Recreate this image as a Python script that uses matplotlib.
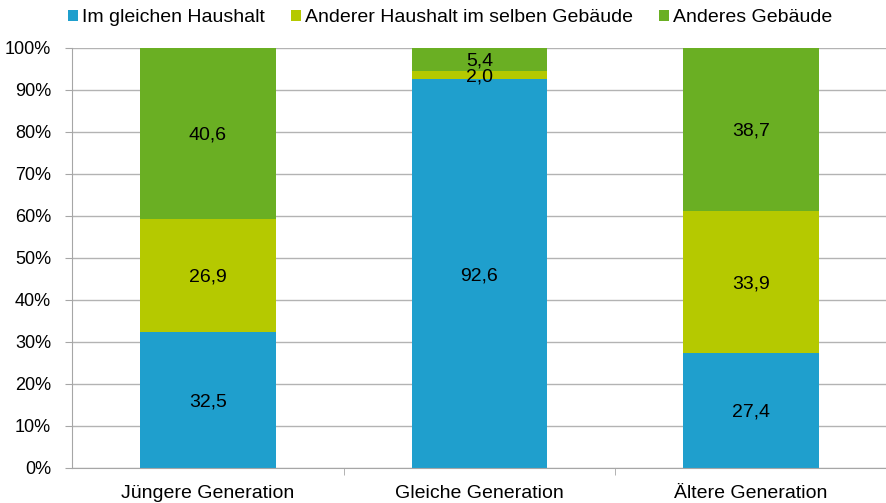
import matplotlib.pyplot as plt
import numpy as np

plt.rcParams["font.family"] = ["Liberation Sans", "DejaVu Sans"]

categories = ["Jüngere Generation", "Gleiche Generation", "Ältere Generation"]
series_names = ["Im gleichen Haushalt", "Anderer Haushalt im selben Gebäude", "Anderes Gebäude"]
same_household = [32.5, 92.6, 27.4]
same_building = [26.9, 2.0, 33.9]
other_building = [40.6, 5.4, 38.7]
colors = ["#1F9FCD", "#B5C900", "#6AAF23"]

fig = plt.figure(figsize=(8.87, 5.03), dpi=100)
ax = fig.add_axes([72 / 887, 35 / 503, 815 / 887, 420 / 503])

x = np.arange(len(categories))
bottom = np.zeros(len(categories))
for name, values, color in zip(series_names, [same_household, same_building, other_building], colors):
    values = np.array(values)
    ax.bar(x, values, 0.5, bottom=bottom, color=color, label=name, zorder=2)
    for xi, b, v in zip(x, bottom, values):
        ax.text(xi, b + v / 2, f"{v:.1f}".replace(".", ","), ha="center", va="center_baseline",
                fontsize=14, color="black", zorder=3)
    bottom += values

ax.set_xlim(-0.5, 2.5)
ax.set_ylim(0, 100)
ax.set_yticks(np.arange(0, 101, 10))
ax.set_yticklabels([f"{t}%" for t in range(0, 101, 10)], fontsize=13)
ax.set_xticks(x)
ax.set_xticklabels(categories, fontsize=14)
ax.tick_params(axis="x", length=0, pad=12)
ax.set_xticks([0.5, 1.5], minor=True)
ax.tick_params(axis="x", which="minor", length=5, color="#A6A6A6")
ax.tick_params(axis="y", length=5, color="#A6A6A6", pad=10)

ax.grid(axis="y", color="#B3B3B3", linewidth=1, zorder=0)
for side in ["top", "right"]:
    ax.spines[side].set_visible(False)
for side in ["left", "bottom"]:
    ax.spines[side].set_color("#A6A6A6")

ax.legend(loc="center left", bbox_to_anchor=(-0.005, 1.072), ncol=3, frameon=False, fontsize=14,
          handlelength=0.52, handleheight=0.52, handletextpad=0.2, columnspacing=1.35,
          borderaxespad=0.0, borderpad=0.0)

fig.savefig("out.png", dpi=100)
